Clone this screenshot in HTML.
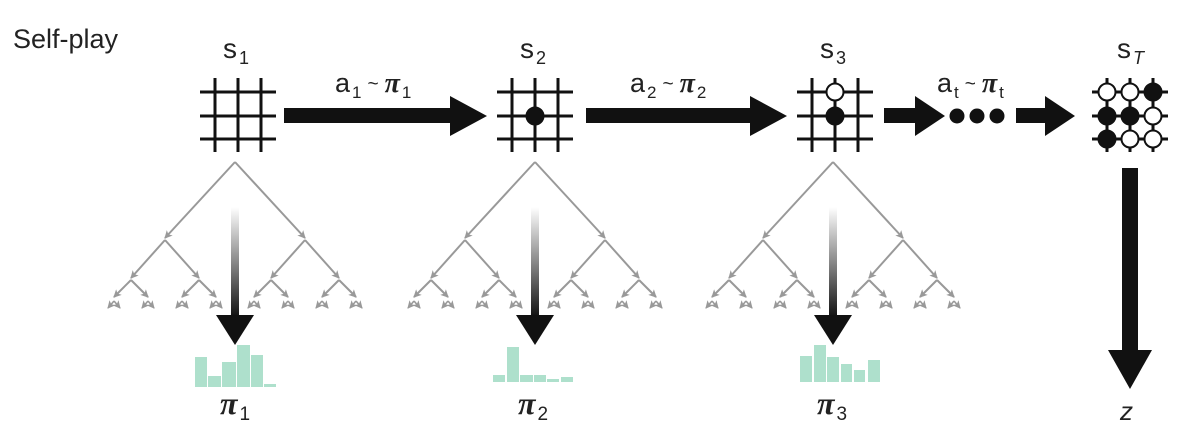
<!DOCTYPE html>
<html><head><meta charset="utf-8"><style>
html,body{margin:0;padding:0;background:#fff;}
svg{display:block;}
text{font-family:"Liberation Sans",sans-serif;fill:#222;}
</style></head><body>
<svg id="s" width="1200" height="447" viewBox="0 0 1200 447" xmlns="http://www.w3.org/2000/svg">
<defs>
<marker id="ah" markerWidth="9" markerHeight="9" refX="7" refY="4.5" orient="auto" markerUnits="userSpaceOnUse">
<path d="M0,0.5 L8,4.5 L0,8.5 L2,4.5 z" fill="#999"/>
</marker>
<linearGradient id="gr" x1="0" y1="0" x2="0" y2="1">
<stop offset="0" stop-color="#fff"/><stop offset="1" stop-color="#111"/>
</linearGradient>
</defs>
<text x="13" y="48" font-size="27">Self-play</text>
<g id="g"></g>
</svg>
<script>
var g=document.getElementById('g');var h='';
var PI='<tspan font-family="Liberation Serif" font-weight="bold" font-style="italic">π</tspan>';
function L(x1,y1,x2,y2,c,w,m){h+='<line x1="'+x1+'" y1="'+y1+'" x2="'+x2+'" y2="'+y2+'" stroke="'+c+'" stroke-width="'+w+'"'+(m?' marker-end="url(#ah)"':'')+'/>';}
function R(x,y,w,hh,c){h+='<rect x="'+x+'" y="'+y+'" width="'+w+'" height="'+hh+'" fill="'+c+'"/>';}
function C(x,y,f){h+='<circle cx="'+x+'" cy="'+y+'" r="8.5" fill="'+f+'" stroke="#111" stroke-width="2"/>';}
function T(x,y,s,fs,st){h+='<text x="'+x+'" y="'+y+'" font-size="'+fs+'" '+(st||'')+'>'+s+'</text>';}
function board(cx,stones){
 var xs=[cx-23,cx,cx+23],ys=[92,116,139];
 ys.forEach(function(y){L(cx-38,y,cx+38,y,'#111',3);});
 xs.forEach(function(x){L(x,78,x,152,'#111',3);});
 stones.forEach(function(s){C(xs[s[0]],ys[s[1]],s[2]?'#111':'#fff');});
}
board(238,[]);board(535,[[1,1,1]]);board(835,[[1,0,0],[1,1,1]]);
board(1130,[[0,0,0],[1,0,0],[2,0,1],[0,1,1],[1,1,1],[2,1,0],[0,2,1],[1,2,0],[2,2,0]]);
function sl(x,sub){T(x-10,58,'s<tspan dx="2" dy="6" font-size="18">'+sub+'</tspan>',28);}
sl(233,'1');sl(530,'2');sl(830,'3');
T(1117,58,'s<tspan dx="2" dy="6" font-size="18" font-style="italic">T</tspan>',28);
function ha(x1,x2,hx){h+='<polygon points="'+x1+',108 '+hx+',108 '+hx+',96 '+x2+',116 '+hx+',136 '+hx+',123 '+x1+',123" fill="#111"/>';}
ha(284,487,450);ha(586,787,750);ha(884,945,915);ha(1016,1075,1045);
[957,977,997].forEach(function(x){h+='<circle cx="'+x+'" cy="116" r="7.5" fill="#111"/>';});
function al(x,sub){T(x,92,'a<tspan dx="2" dy="6" font-size="17">'+sub+'</tspan><tspan dx="6" dy="-8" font-size="19">~</tspan><tspan dx="6" dy="2" font-size="28">'+PI+'</tspan><tspan dx="2" dy="6" font-size="17">'+sub+'</tspan>',27);}
al(335,'1');al(630,'2');al(937,'t');
function pl(x,sub){T(x,414,PI+'<tspan dx="2" dy="6" font-size="19">'+sub+'</tspan>',32);}
function tree(A){
 var c='#999';
 L(A,162,A-70,238,c,2,1);L(A,162,A+70,238,c,2,1);
 [A-70,A+70].forEach(function(a){
  L(a,240,a-34,278,c,2,1);L(a,240,a+34,278,c,2,1);
  [a-34,a+34].forEach(function(b){
   L(b,280,b-17,297,c,2,1);L(b,280,b+17,297,c,2,1);
   [b-17,b+17].forEach(function(d){L(d,301,d-6,308,c,1.6,1);L(d,301,d+6,308,c,1.6,1);});
  });
 });
 R(A-4,207,8,110,'url(#gr)');
 h+='<polygon points="'+(A-19)+',315 '+(A+19)+',315 '+A+',345" fill="#111"/>';
}
tree(235);tree(535);tree(833);
var col='#aee0cc';
function hist(bars){bars.forEach(function(b){R(b[0],b[1],b[2]-b[0],b[3]-b[1],col);});}
hist([[195,357,207,387],[208,376,221,387],[222,362,236,387],[237,345,250,387],[251,355,263,387],[264,384,276,387]]);
hist([[493,375,505,382],[507,347,519,382],[520,375,533,382],[534,375,546,382],[547,379,559,382],[561,377,573,382]]);
hist([[800,356,812,382],[814,345,826,382],[827,357,839,382],[841,364,852,382],[854,370,865,382],[868,360,880,382]]);
pl(220,'1');pl(518,'2');pl(817,'3');
h+='<polygon points="1122,168 1138,168 1138,350 1152,350 1130,389 1108,350 1122,350" fill="#111"/>';
T(1120,420,'<tspan font-style="italic">z</tspan>',26);
g.innerHTML=h;
</script>
</body></html>
